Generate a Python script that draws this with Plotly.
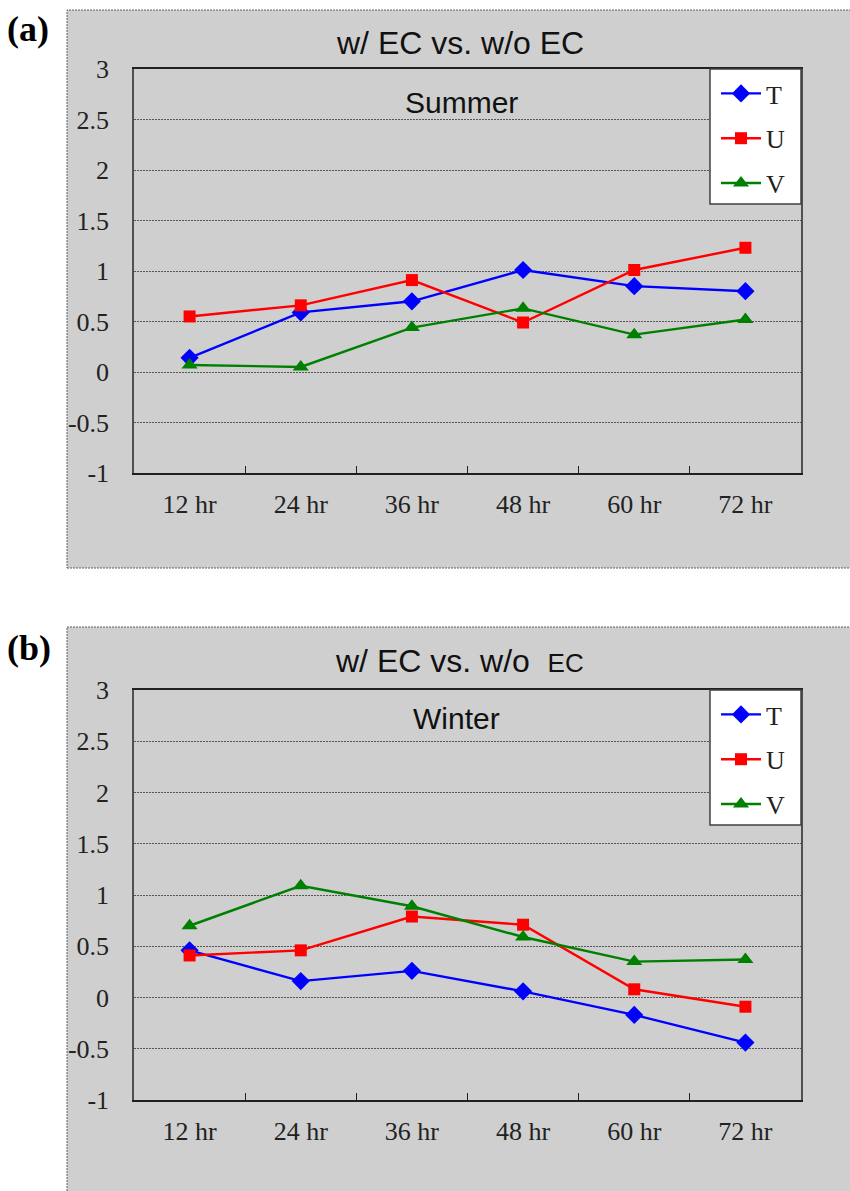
import plotly.graph_objects as go

# ---- data -------------------------------------------------------------
categories = ["12 hr", "24 hr", "36 hr", "48 hr", "60 hr", "72 hr"]

summer_T = [0.14, 0.59, 0.70, 1.01, 0.85, 0.80]
summer_U = [0.55, 0.66, 0.91, 0.49, 1.01, 1.23]
summer_V = [0.07, 0.05, 0.44, 0.63, 0.37, 0.52]

winter_T = [0.46, 0.16, 0.26, 0.06, -0.17, -0.44]
winter_U = [0.41, 0.46, 0.79, 0.71, 0.08, -0.09]
winter_V = [0.70, 1.09, 0.89, 0.59, 0.35, 0.37]

y_tickvals = [-1, -0.5, 0, 0.5, 1, 1.5, 2, 2.5, 3]
y_ticktext = ["-1", "-0.5", "0", "0.5", "1", "1.5", "2", "2.5", "3"]

series_names = ["T", "U", "V"]
series_colors = ["#0000FF", "#FF0000", "#008000"]
series_symbols = ["diamond", "square", "triangle-up"]
series_sizes = [14, 12, 14]

# ---- page geometry (pixels) -------------------------------------------
W, H = 850, 1191
SERIF = "Liberation Serif, Times New Roman, serif"
SANS = "Liberation Sans, Arial, sans-serif"


def px_x(v):
    return v / W


def px_y(v):
    return 1 - v / H


panels = [
    dict(box_top=10, box_bottom=568, plot_top=69, plot_bottom=473,
         title="w/ EC vs. w/o EC", title_y=43, season="Summer", season_y=103,
         season_x=461, tag="(a)", tag_y=29, legend="legend",
         data=[summer_T, summer_U, summer_V]),
    dict(box_top=627, box_bottom=1195, plot_top=690, plot_bottom=1100,
         title="w/ EC vs. w/o  <span style='font-size:26px'>EC</span>",
         title_y=661, season="Winter", season_y=718, season_x=457,
         tag="(b)", tag_y=648, legend="legend2",
         data=[winter_T, winter_U, winter_V]),
]

PLOT_LEFT, PLOT_RIGHT = 134, 801
BOX_LEFT = 67
LEG_LEFT, LEG_RIGHT, LEG_H = 710, 801, 135

fig = go.Figure()
shapes, annotations = [], []

for i, p in enumerate(panels):
    sfx = "" if i == 0 else str(i + 1)
    xa, ya = "x" + sfx, "y" + sfx

    for name, vals, col, sym, sz in zip(series_names, p["data"], series_colors,
                                        series_symbols, series_sizes):
        fig.add_trace(go.Scatter(
            x=categories, y=vals, name=name, mode="lines+markers",
            line=dict(color=col, width=2.4),
            marker=dict(symbol=sym, size=sz, color=col),
            xaxis=xa, yaxis=ya, legend=p["legend"],
            legendgroup=p["legend"] + name,
        ))

    fig.update_layout({
        "xaxis" + sfx: dict(
            domain=[px_x(PLOT_LEFT), px_x(PLOT_RIGHT)], anchor=ya,
            type="category", range=[-0.5, len(categories) - 0.5],
            tickson="boundaries", ticks="inside",
            ticklen=7, tickwidth=1.2, tickcolor="#202020",
            showline=True, linecolor="#202020", linewidth=2, mirror=True,
            showgrid=False, zeroline=False, ticklabelstandoff=7,
            automargin=False,
            tickfont=dict(family=SERIF, size=26, color="#222222"),
        ),
        "yaxis" + sfx: dict(
            domain=[px_y(p["plot_bottom"]), px_y(p["plot_top"])], anchor=xa,
            range=[-1, 3], tickvals=y_tickvals, ticktext=y_ticktext,
            showline=True, linecolor="#505050", linewidth=1.5, mirror=True,
            showgrid=True, gridcolor="#555555", gridwidth=1,
            griddash="2px,1px", zeroline=False, ticks="",
            ticklabelstandoff=18, automargin=False,
            tickfont=dict(family=SERIF, size=26, color="#222222"),
        ),
        p["legend"]: dict(
            x=px_x(LEG_LEFT + 6), y=px_y(p["plot_top"] + 1),
            xanchor="left", yanchor="top",
            bgcolor="rgba(0,0,0,0)", borderwidth=0,
            font=dict(family=SERIF, size=26, color="#222222"),
            tracegroupgap=8, itemwidth=40, traceorder="grouped",
        ),
    })

    # grey chart-area panel
    shapes.append(dict(
        type="rect", xref="paper", yref="paper", layer="below",
        x0=px_x(BOX_LEFT), x1=px_x(W + 5),
        y0=px_y(p["box_bottom"]), y1=px_y(p["box_top"]),
        fillcolor="#cfcfcf", line=dict(color="#606060", width=1, dash="2px,1px"),
    ))
    # legend frame
    shapes.append(dict(
        type="rect", xref="paper", yref="paper", layer="above",
        x0=px_x(LEG_LEFT), x1=px_x(LEG_RIGHT),
        y0=px_y(p["plot_top"] + LEG_H), y1=px_y(p["plot_top"]),
        fillcolor="white", line=dict(color="#404040", width=1.5),
    ))

    annotations += [
        dict(text=p["title"], x=px_x(460), y=px_y(p["title_y"]),
             xref="paper", yref="paper", showarrow=False,
             xanchor="center", yanchor="middle",
             font=dict(family=SANS, size=32, color="#111111")),
        dict(text=p["season"], x=px_x(p["season_x"]), y=px_y(p["season_y"]),
             xref="paper", yref="paper", showarrow=False,
             xanchor="center", yanchor="middle",
             font=dict(family=SANS, size=30, color="#111111")),
        dict(text="<b>" + p["tag"] + "</b>", x=px_x(5), y=px_y(p["tag_y"]),
             xref="paper", yref="paper", showarrow=False,
             xanchor="left", yanchor="middle",
             font=dict(family=SERIF, size=36, color="black")),
    ]

fig.update_layout(
    width=W, height=H,
    margin=dict(l=0, r=0, t=0, b=0, pad=0, autoexpand=False),
    paper_bgcolor="white", plot_bgcolor="white",
    shapes=shapes, annotations=annotations, showlegend=True,
    hovermode=False,
)

fig.write_html("out.html")
